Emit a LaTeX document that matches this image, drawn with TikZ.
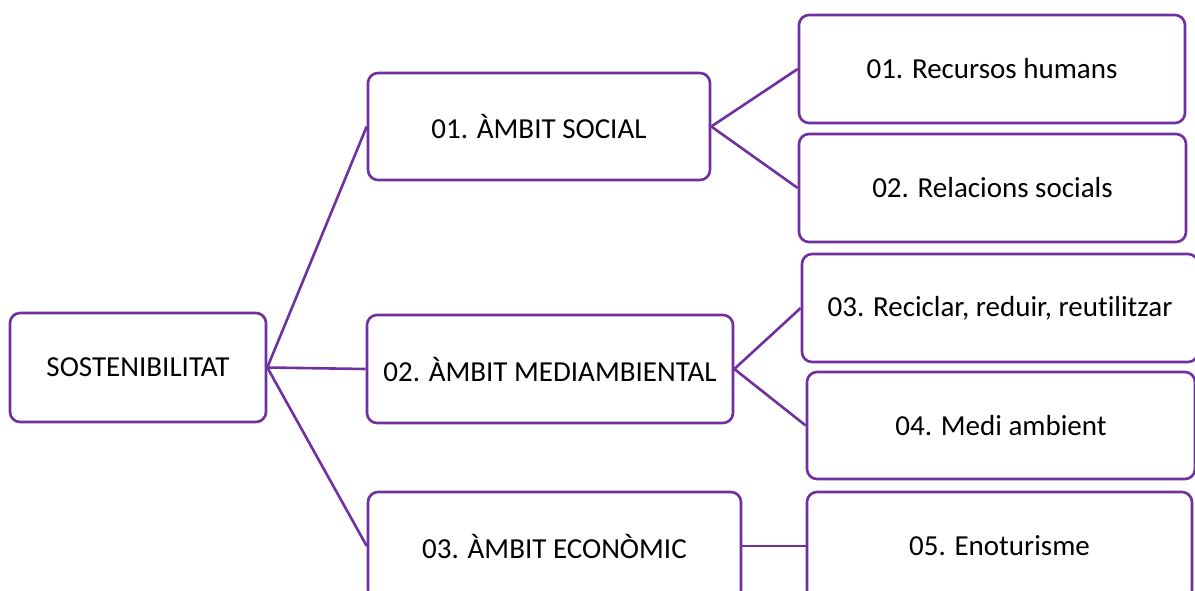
\documentclass[tikz,border=0pt]{standalone}
\usepackage{fontspec}
\setmainfont{Carlito}[Ligatures=NoCommon]
\definecolor{purp}{HTML}{7030A0}
\begin{document}
\begin{tikzpicture}[x=1pt,y=-1pt,
  box/.style={draw=purp, line width=2.6pt, rounded corners=10pt, inner sep=0pt,
    align=center, fill=white, text=black, font=\fontsize{29}{34}\selectfont},
  link/.style={draw=purp, line width=2.6pt}]
\useasboundingbox (0,0) rectangle (1195,590);
\clip (0,0) rectangle (1195,590);
\node[box, minimum width=256pt, minimum height=109pt] (sost) at (138,367.5) {SOSTENIBILITAT};
\node[box, minimum width=342pt, minimum height=107pt] (social) at (539,126.5) {01. ÀMBIT SOCIAL};
\node[box, minimum width=366pt, minimum height=108pt] (medi) at (550,369) {02. ÀMBIT MEDIAMBIENTAL};
\node[box, minimum width=373pt, minimum height=108pt] (econ) at (554.5,546) {03. ÀMBIT ECONÒMIC};
\node[box, minimum width=386pt, minimum height=108pt] (r1) at (992,69) {01. Recursos humans};
\node[box, minimum width=387pt, minimum height=108pt] (r2) at (992.5,188) {02. Relacions socials};
\node[box, minimum width=396pt, minimum height=108pt] (r3) at (1000,308) {03. Reciclar, reduir, reutilitzar};
\node[box, minimum width=388pt, minimum height=107pt] (r4) at (1001,425.5) {04. Medi ambient};
\node[box, minimum width=385pt, minimum height=108pt] (r5) at (999.5,546) {05. Enoturisme};
\draw[link] (sost.east) -- (social.west);
\draw[link] (sost.east) -- (medi.west);
\draw[link] (sost.east) -- (econ.west);
\draw[link] (social.east) -- (r1.west);
\draw[link] (social.east) -- (r2.west);
\draw[link] (medi.east) -- (r3.west);
\draw[link] (medi.east) -- (r4.west);
\draw[link] (econ.east) -- (r5.west);
\end{tikzpicture}
\end{document}
